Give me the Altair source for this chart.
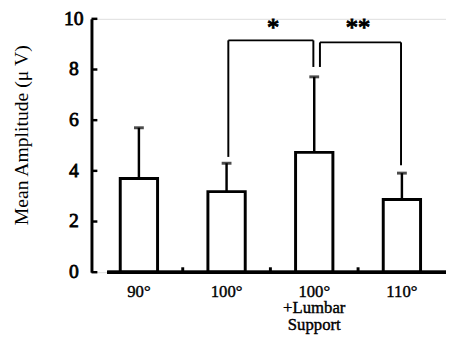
import altair as alt
import pandas as pd

# ---- data ----
categories = ["90°", "100°", "100°\n+Lumbar\nSupport", "110°"]
positions = [1, 2, 3, 4]
means = [3.70, 3.18, 4.73, 2.87]
uppers = [5.70, 4.30, 7.71, 3.91]
y_ticks = [0, 2, 4, 6, 8, 10]
boundaries = [1.5, 2.5, 3.5]

# significance brackets: (x, y, x2, y2)
bracket_x = [2.02, 2.02, 2.99, 3.065, 3.065, 3.99]
bracket_y = [4.55, 9.15, 9.15, 8.10, 9.07, 9.07]
bracket_x2 = [2.02, 2.99, 2.99, 3.065, 3.99, 3.99]
bracket_y2 = [9.15, 9.15, 8.10, 9.07, 9.07, 4.22]
star_x = [2.53, 3.50]
star_y = [9.72, 9.72]
star_text = ["*", "**"]

W, H = 361, 258
FONT = "Liberation Serif"

df = pd.DataFrame({"cat": categories, "pos": positions, "mean": means, "upper": uppers})
ticks_df = pd.DataFrame({"v": y_ticks})
bnd_df = pd.DataFrame({"b": boundaries})
br_df = pd.DataFrame({"x": bracket_x, "y": bracket_y, "x2": bracket_x2, "y2": bracket_y2})
st_df = pd.DataFrame({"x": star_x, "y": star_y, "t": star_text})

xs = alt.Scale(domain=[0.515, 4.447], nice=False, zero=False)
ys = alt.Scale(domain=[0, 10], nice=False)

base = alt.Chart(df)

bars = base.mark_bar(size=38, fill="white", stroke="black", strokeWidth=3).encode(
    x=alt.X("pos:Q", scale=xs, axis=None),
    y=alt.Y("mean:Q", scale=ys, axis=alt.Axis(
        title="Mean Amplitude (μ V)", values=y_ticks, ticks=False, tickSize=0, labels=False,
        domainColor="black", domainWidth=3,
        grid=False, titleFont=FONT, titleFontSize=20, titleFontWeight="normal",
        titleColor="black", titleX=-65, titleY=118, titleAngle=-90,
        titleBaseline="alphabetic", titleAnchor="middle")),
    y2=alt.datum(0),
)

err = base.mark_rule(color="black", strokeWidth=2.5).encode(
    x=alt.X("pos:Q", scale=xs), y=alt.Y("mean:Q", scale=ys), y2="upper:Q")

caps = base.mark_tick(orient="horizontal", size=10, thickness=3, color="black").encode(
    x=alt.X("pos:Q", scale=xs), y=alt.Y("upper:Q", scale=ys))

xlabels = base.mark_text(font=FONT, fontSize=17, baseline="top", align="center",
                         lineBreak="\n", lineHeight=17, color="black",
                         stroke="black", strokeWidth=0.4).encode(
    x=alt.X("pos:Q", scale=xs), y=alt.value(H + 12), text="cat:N")

ytick_marks = alt.Chart(ticks_df).mark_rule(color="black", strokeWidth=2.5).encode(
    y=alt.Y("v:Q", scale=ys), x=alt.value(0), x2=alt.value(6))

ytick_labels = alt.Chart(ticks_df).mark_text(font=FONT, fontSize=20, align="center",
                                             baseline="middle", color="black",
                                             stroke="black", strokeWidth=0.8).encode(
    y=alt.Y("v:Q", scale=ys), x=alt.value(-18), text="v:Q")

xaxis_line = alt.Chart(df).mark_rule(color="black", strokeWidth=3).encode(
    x=alt.value(16), x2=alt.value(W), y=alt.value(H))

bumps = alt.Chart(bnd_df).mark_rule(color="black", strokeWidth=3).encode(
    x=alt.X("b:Q", scale=xs), y=alt.value(H), y2=alt.value(H - 5))

brackets = alt.Chart(br_df).mark_rule(color="black", strokeWidth=2).encode(
    x=alt.X("x:Q", scale=xs), y=alt.Y("y:Q", scale=ys), x2="x2:Q", y2="y2:Q")

stars = alt.Chart(st_df).mark_text(font=FONT, fontSize=25, baseline="middle",
                                   color="black", stroke="black", strokeWidth=1, dy=2).encode(
    x=alt.X("x:Q", scale=xs), y=alt.Y("y:Q", scale=ys), text="t:N")

chart = alt.layer(bars, err, caps, brackets, stars, ytick_marks, ytick_labels,
                  xaxis_line, bumps, xlabels).properties(
    width=W, height=H,
    autosize=alt.AutoSizeParams(type="none"),
    padding={"left": 85, "top": 8, "right": 0, "bottom": 65},
).configure_view(stroke=None).configure(background="white")

chart.save("out.html", embed_options={"renderer": "svg", "actions": False})
